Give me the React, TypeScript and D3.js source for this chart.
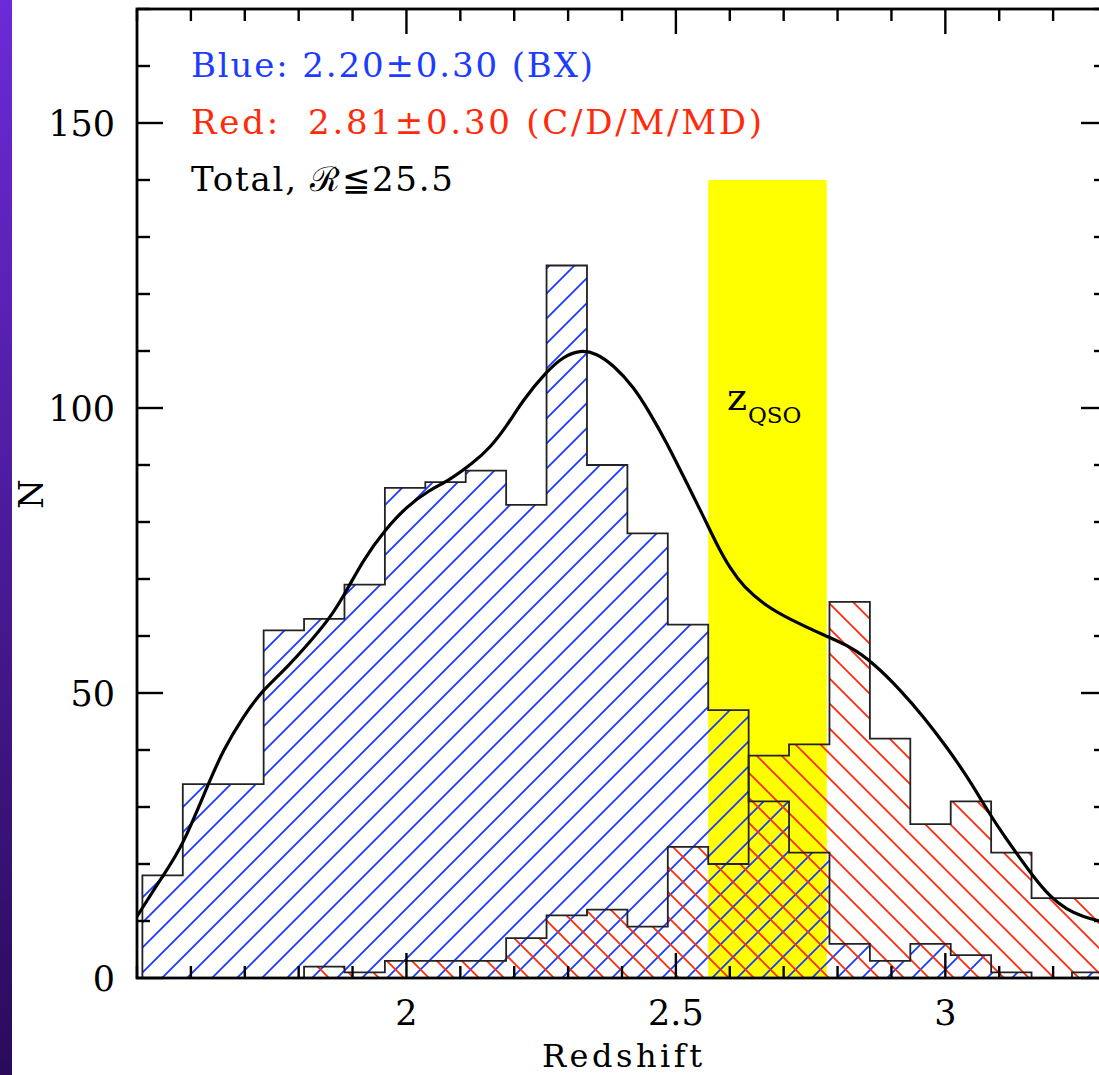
import * as d3 from 'd3'

// histogram bins: 0.075 wide, starting at z = 1.51
const binStart = 1.51
const binWidth = 0.075
const blueCounts = [18, 34, 34, 61, 63, 69, 86, 87, 89, 83, 125, 90, 78, 62, 47, 31, 22, 6, 3, 6, 4, 1, 0, 1]
const redCounts = [0, 0, 0, 0, 2, 1, 3, 3, 3, 7, 11, 12, 9, 23, 20, 39, 41, 66, 42, 27, 31, 22, 14, 14]

// smoothed total distribution
const curveZ = [1.5, 1.549, 1.584, 1.632, 1.66, 1.697, 1.734, 1.778, 1.827, 1.858, 1.883, 1.92, 1.96, 2.0, 2.044, 2.081, 2.124, 2.155, 2.186, 2.217, 2.26, 2.291, 2.322, 2.353, 2.384, 2.421, 2.452, 2.483, 2.514, 2.545, 2.576, 2.601, 2.625, 2.668, 2.712, 2.78, 2.823, 2.866, 2.916, 2.959, 3.002, 3.04, 3.07, 3.101, 3.132, 3.163, 3.194, 3.225, 3.256, 3.29]
const curveN = [10.8, 18.1, 23, 34, 40, 45.9, 50.6, 54.4, 59.6, 63.2, 66.9, 73.4, 78.6, 82.7, 85.7, 87.4, 90.4, 93, 96.8, 101.5, 106.4, 109, 110.2, 109.6, 107.5, 103.8, 99.1, 93.9, 88, 82.2, 76, 71.8, 68.7, 65.2, 62.9, 59.9, 58.2, 55.3, 50.6, 45.9, 40.6, 35.4, 30.7, 26, 21.9, 17.8, 14.3, 12, 10.7, 9.9]

// z_QSO band
const qsoBand = [2.56, 2.78]
const qsoTop = 140

const xTickValues = [2, 2.5, 3]
const xTickLabels = ['2', '2.5', '3']
const yTickValues = [0, 50, 100, 150]
const yTickLabels = ['0', '50', '100', '150']

const legendLines = [
  { text: 'Blue: 2.20±0.30 (BX)', color: '#1c3cff', width: 402 },
  { text: 'Red:  2.81±0.30 (C/D/M/MD)', color: '#ff2a0a', width: 571 },
  { text: 'Total, ℛ≦25.5', color: '#000', width: 262 },
]

const BLUE = '#1a3aff'
const RED = '#ff2a0a'
const FONT = '"DejaVu Serif", serif'

function stepPoints(counts: number[]): [number, number][] {
  const pts: [number, number][] = [[binStart, 0]]
  counts.forEach((c, i) => {
    pts.push([binStart + i * binWidth, c])
    pts.push([binStart + (i + 1) * binWidth, c])
  })
  pts.push([binStart + counts.length * binWidth, 0])
  return pts
}

export default function App() {
  const W = 1099
  const H = 1075
  const left = 137
  const right = 1107
  const top = 9
  const bottom = 978

  const x = d3.scaleLinear().domain([1.5, 3.3]).range([left, right])
  const y = d3.scaleLinear().domain([0, 170]).range([bottom, top])

  const line = d3
    .line<[number, number]>()
    .x((d) => x(d[0]))
    .y((d) => y(d[1]))

  const bluePath = line(stepPoints(blueCounts)) || ''
  const redPath = line(stepPoints(redCounts)) || ''

  const curvePath =
    d3
      .line<number>()
      .x((_, i) => x(curveZ[i]))
      .y((d) => y(d))
      .curve(d3.curveBasis)(curveN) || ''

  const xMinor = x.ticks(18)
  const yMinor = y.ticks(17)

  const minorLen = 12
  const majorLen = 25

  return (
    <div style={{ position: 'absolute', left: 0, top: 0 }}>
      <svg width={W} height={H} style={{ display: 'block', background: '#fff' }}>
        <defs>
          <linearGradient id="strip" x1="0" y1="0" x2="0" y2="1">
            <stop offset="0%" stopColor="#6c2ad8" />
            <stop offset="100%" stopColor="#290b5a" />
          </linearGradient>
          <pattern id="hatchBlue" patternUnits="userSpaceOnUse" width={25} height={25} x={15} y={0}>
            <path d="M0,25 L25,0 M-5,5 L5,-5 M20,30 L30,20" stroke={BLUE} strokeWidth={1.8} />
          </pattern>
          <pattern id="hatchRed" patternUnits="userSpaceOnUse" width={25} height={25} x={1} y={0}>
            <path d="M0,0 L25,25 M-5,20 L5,30 M20,-5 L30,5" stroke={RED} strokeWidth={1.8} />
          </pattern>
          <clipPath id="plotArea">
            <rect x={left} y={top} width={right - left} height={bottom - top} />
          </clipPath>
        </defs>

        <rect x={0} y={0} width={12} height={H} fill="url(#strip)" />

        <g clipPath="url(#plotArea)">
          <rect
            x={x(qsoBand[0])}
            y={y(qsoTop)}
            width={x(qsoBand[1]) - x(qsoBand[0])}
            height={y(0) - y(qsoTop)}
            fill="#ffff00"
          />
          <path d={bluePath + 'Z'} fill="url(#hatchBlue)" />
          <path d={redPath + 'Z'} fill="url(#hatchRed)" />
          <path d={bluePath} fill="none" stroke="#222" strokeWidth={1.8} />
          <path d={redPath} fill="none" stroke="#222" strokeWidth={1.8} />
          <path d={curvePath} fill="none" stroke="#000" strokeWidth={3.2} />
        </g>

        {/* ticks, inward on all four sides */}
        <g stroke="#000" strokeWidth={2.4}>
          {xMinor.map((v) => {
            const len = xTickValues.includes(+v.toFixed(2)) ? majorLen : minorLen
            return (
              <g key={'x' + v}>
                <line x1={x(v)} x2={x(v)} y1={bottom} y2={bottom - len} />
                <line x1={x(v)} x2={x(v)} y1={top} y2={top + len} />
              </g>
            )
          })}
          {yMinor.map((v) => {
            const len = yTickValues.includes(v) ? majorLen + 1 : minorLen + 1
            return (
              <g key={'y' + v}>
                <line x1={left} x2={left + len} y1={y(v)} y2={y(v)} />
                <line x1={right} x2={right - len} y1={y(v)} y2={y(v)} />
              </g>
            )
          })}
        </g>
        <rect
          x={left}
          y={top}
          width={right - left}
          height={bottom - top}
          fill="none"
          stroke="#000"
          strokeWidth={2.8}
        />

        {/* tick labels */}
        <g fontFamily={FONT} fontSize={35} fill="#000">
          {xTickValues.map((v, i) => (
            <text key={v} x={x(v)} y={1024.5} textAnchor="middle">
              {xTickLabels[i]}
            </text>
          ))}
          {yTickValues.map((v, i) => (
            <text key={v} x={115} y={y(v) + 12.8} textAnchor="end">
              {yTickLabels[i]}
            </text>
          ))}
        </g>

        <text
          x={(left + right) / 2}
          y={1067}
          textAnchor="middle"
          fontFamily={FONT}
          fontSize={32}
          textLength={160}
          lengthAdjust="spacing"
        >
          Redshift
        </text>
        <text
          transform="translate(43,494) rotate(-90)"
          textAnchor="middle"
          fontFamily={FONT}
          fontSize={34}
        >
          N
        </text>

        {/* legend */}
        <g fontFamily={FONT} fontSize={34}>
          {legendLines.map((l, i) => (
            <text
              key={i}
              x={191}
              y={77.3 + i * 56.7}
              fill={l.color}
              textLength={l.width}
              lengthAdjust="spacing"
              style={{ whiteSpace: 'pre' }}
            >
              {l.text}
            </text>
          ))}
        </g>

        <g fontFamily={FONT} fill="#000">
          <text x={727} y={410} fontSize={38}>
            z
          </text>
          <text x={748} y={423} fontSize={23}>
            QSO
          </text>
        </g>
      </svg>
    </div>
  )
}
